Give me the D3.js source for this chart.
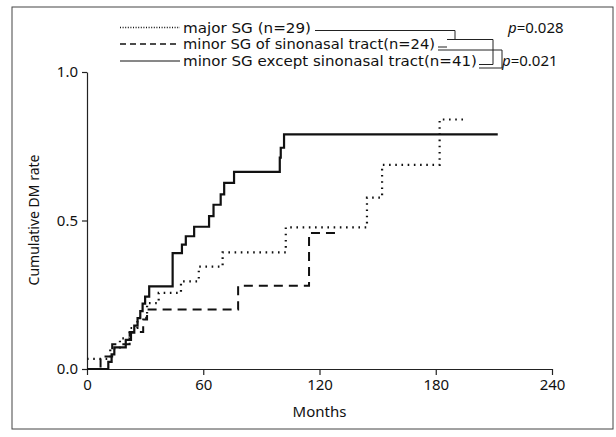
<!DOCTYPE html>
<html>
<head>
<meta charset="utf-8">
<title>Cumulative DM rate</title>
<script src="https://cdn.jsdelivr.net/npm/d3@7"></script>
<style>
  body { margin: 0; background: #fff; }
  text { font-family: "Noto Sans", "DejaVu Sans", sans-serif; fill: #111; }
  .legend text { font-family: "DejaVu Sans", sans-serif; }
  .axis path, .axis line { stroke: #222; stroke-width: 1.2px; }
  .km { fill: none; stroke: #111; }
</style>
</head>
<body>
<div id="chart"></div>
<script>
// values (months, cumulative rate)
var monthTicks = [0, 60, 120, 180, 240];
var rateTicks = [0, 0.5, 1.0];

var majorT = [0, 12, 17, 22, 26, 31, 37, 48.5, 57.7, 70, 102.6, 144.5, 152.3, 182, 195.4];
var majorV = [0.034, 0.069, 0.103, 0.138, 0.172, 0.222, 0.256, 0.295, 0.345, 0.393, 0.477, 0.577, 0.687, 0.84, 0.84];

var sinoT = [0, 7, 13, 22, 29, 31, 78, 114.6, 128];
var sinoV = [0, 0.042, 0.083, 0.125, 0.167, 0.2, 0.28, 0.458, 0.458];

var exceptT = [0, 11, 12.7, 14.1, 20, 22.7, 24.4, 26.1, 27.5, 28.7, 30, 32.1, 44.2, 49, 51, 55.3, 63, 65.3, 69, 70.8, 75.9, 99.5, 100, 101.7, 212];
var exceptV = [0, 0.024, 0.049, 0.073, 0.098, 0.122, 0.146, 0.171, 0.195, 0.22, 0.244, 0.278, 0.39, 0.419, 0.447, 0.479, 0.515, 0.553, 0.588, 0.627, 0.664, 0.712, 0.745, 0.79, 0.79];

var legendLabels = ["major SG (n=29)", "minor SG of sinonasal tract(n=24)", "minor SG except sinonasal tract(n=41)"];
var pValues = ["0.028", "0.021"];

var width = 616, height = 437;
var svg = d3.select("#chart").append("svg")
    .attr("width", width)
    .attr("height", height);

// scanned frame
svg.append("rect")
    .attr("x", 12).attr("y", 7)
    .attr("width", 601).attr("height", 422)
    .attr("fill", "none")
    .attr("stroke", "#444")
    .attr("stroke-width", 1);

var x = d3.scaleLinear().domain([0, 240]).range([87, 552]);
var y = d3.scaleLinear().domain([0, 1]).range([369, 72]);

var xAxis = svg.append("g")
    .attr("class", "axis")
    .attr("transform", "translate(0," + y(0) + ")")
    .call(d3.axisBottom(x).tickValues(monthTicks).tickSize(6).tickSizeOuter(0).tickPadding(4));
xAxis.selectAll("text").style("font-size", "15px").attr("fill", "#111");

var yAxis = svg.append("g")
    .attr("class", "axis")
    .attr("transform", "translate(" + x(0) + ",0)")
    .call(d3.axisLeft(y).tickValues(rateTicks).tickFormat(d3.format(".1f")).tickSize(5).tickSizeOuter(0).tickPadding(4));
yAxis.selectAll("text").style("font-size", "15px").attr("fill", "#111");
svg.selectAll(".axis .domain").attr("stroke", "#222");

svg.append("text")
    .attr("x", x(120)).attr("y", 417)
    .attr("text-anchor", "middle")
    .style("font-size", "15px")
    .text("Months");

svg.append("text")
    .attr("transform", "translate(39,220) rotate(-90)")
    .attr("text-anchor", "middle")
    .style("font-size", "14px")
    .text("Cumulative DM rate");

var step = d3.line()
    .x(function(d) { return x(d[0]); })
    .y(function(d) { return y(d[1]); })
    .curve(d3.curveStepAfter);

var styles = [
  { dash: "1.6,4.6", w: 2.2 },
  { dash: "9,6", w: 2 },
  { dash: null, w: 2.2 }
];

var series = [d3.zip(majorT, majorV), d3.zip(sinoT, sinoV), d3.zip(exceptT, exceptV)];

series.forEach(function(s, i) {
  svg.append("path")
      .attr("class", "km")
      .attr("d", step(s))
      .attr("stroke-width", styles[i].w)
      .attr("stroke-dasharray", styles[i].dash);
});

// legend
var legend = svg.append("g").attr("class", "legend");
var rowY = [27.5, 44, 61];
var rowLen = [128, 252, 294];
legendLabels.forEach(function(label, i) {
  legend.append("line")
      .attr("x1", 120).attr("x2", 180)
      .attr("y1", rowY[i]).attr("y2", rowY[i])
      .attr("stroke", "#111")
      .attr("stroke-width", i == 2 ? 1 : 1.4)
      .attr("stroke-dasharray", i == 0 ? "1,1.6" : (i == 1 ? "6,4" : null));
  legend.append("text")
      .attr("x", 183).attr("y", rowY[i] + 5)
      .attr("textLength", rowLen[i])
      .attr("lengthAdjust", "spacingAndGlyphs")
      .style("font-size", "14px")
      .text(label);
});

// comparison brackets
var bracket = svg.append("g")
    .attr("fill", "none")
    .attr("stroke", "#222")
    .attr("stroke-width", 1);
bracket.append("path").attr("d", "M315,30.5H455V39.5H447M455,39.5H493V64.5H479");
bracket.append("path").attr("d", "M438,47H447M438,50H502V68H479");

svg.append("text")
    .attr("x", 508).attr("y", rowY[0] + 5)
    .style("font-size", "15px")
    .html('<tspan font-style="italic">p</tspan>=' + pValues[0]);
svg.append("text")
    .attr("x", 502).attr("y", rowY[2] + 5)
    .style("font-size", "15px")
    .html('<tspan font-style="italic">p</tspan>=' + pValues[1]);
</script>
</body>
</html>
